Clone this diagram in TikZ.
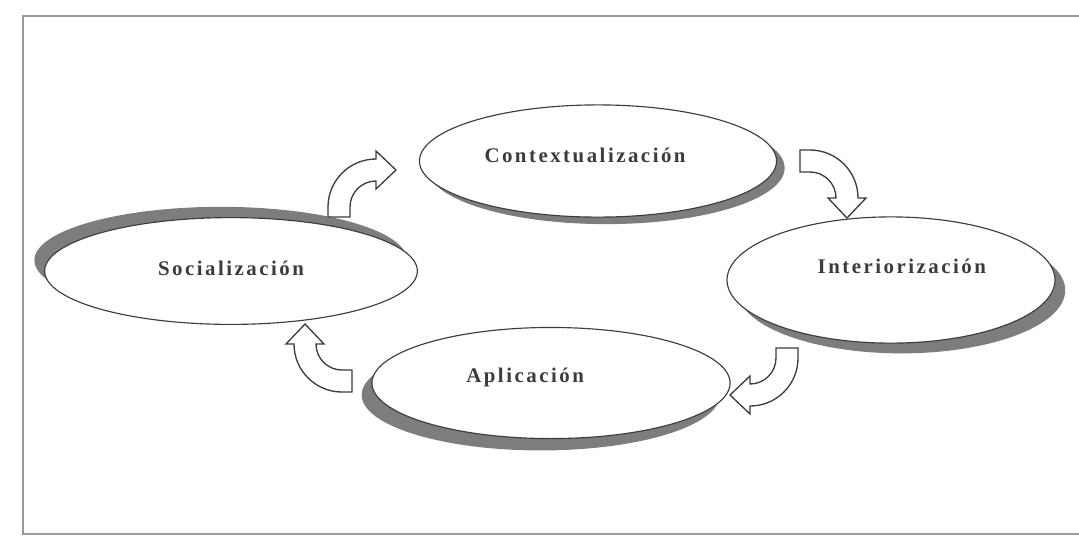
\documentclass[tikz,border=0pt]{standalone}
\usepackage{fontspec}
\usepackage{tikz}
\usetikzlibrary{shapes.geometric,shadows}
\newfontfamily\lblfont[LetterSpace=12]{Liberation Serif}
\definecolor{InkGray}{HTML}{3C3C3C}
\definecolor{ShadowGray}{HTML}{7D7D7D}
\definecolor{FrameGray}{HTML}{9A9A9A}

\tikzset{
  phase/.style={draw=InkGray,line width=0.6pt,ellipse,fill=white,inner sep=0pt},
  lbl/.style={font=\lblfont\bfseries\fontsize{11}{13}\selectfont,text=InkGray},
  turn/.style={draw=InkGray,line width=0.7pt,fill=white,line join=miter},
  turnarrow/.pic={
    \path[turn] (0,0) -- (0,-10) arc[start angle=180,end angle=270,radius=48]
      -- (48,-66) -- (68,-47) -- (48,-28) -- (48,-36)
      arc[start angle=270,end angle=180,radius=26] -- (22,-10) -- (22,0) -- cycle;
  }
}

\begin{document}
\begin{tikzpicture}[x=0.018536cm,y=-0.018536cm]
  \useasboundingbox (0,0) rectangle (1079,544);
  % frame
  \draw[FrameGray,line width=0.7pt] (1079,16) -- (23,16) -- (23,534) -- (1079,534);

  % the four phases
  \node[phase,minimum width=6.62cm,minimum height=2.08cm,
    drop shadow={shadow xshift=0.15cm,shadow yshift=-0.13cm,fill=ShadowGray,opacity=1},
    label={[lbl,xshift=-0.24cm,yshift=0.11cm]center:Contextualización}] (ctx) at (598,161) {};
  \node[phase,minimum width=6.91cm,minimum height=1.98cm,
    drop shadow={shadow xshift=-0.19cm,shadow yshift=0.2cm,fill=ShadowGray,opacity=1},
    label={[lbl,yshift=0.05cm]center:Socialización}] (soc) at (231,271) {};
  \node[phase,minimum width=6.08cm,minimum height=2.34cm,
    drop shadow={shadow xshift=0.19cm,shadow yshift=-0.19cm,fill=ShadowGray,opacity=1},
    label={[lbl,xshift=0.2cm,yshift=0.26cm]center:Interiorización}] (int) at (891,280) {};
  \node[phase,minimum width=6.64cm,minimum height=2.06cm,
    drop shadow={shadow xshift=-0.19cm,shadow yshift=-0.22cm,fill=ShadowGray,opacity=1},
    label={[lbl,xshift=-0.48cm,yshift=0.11cm]center:Aplicación}] (apl) at (551,383) {};

  % turning arrows
  \pic at (328,217) {turnarrow};
  \pic[rotate=-90] at (800,150) {turnarrow};
  \pic[rotate=180] at (798,348) {turnarrow};
  \pic[rotate=90] at (352,392) {turnarrow};
\end{tikzpicture}
\end{document}
